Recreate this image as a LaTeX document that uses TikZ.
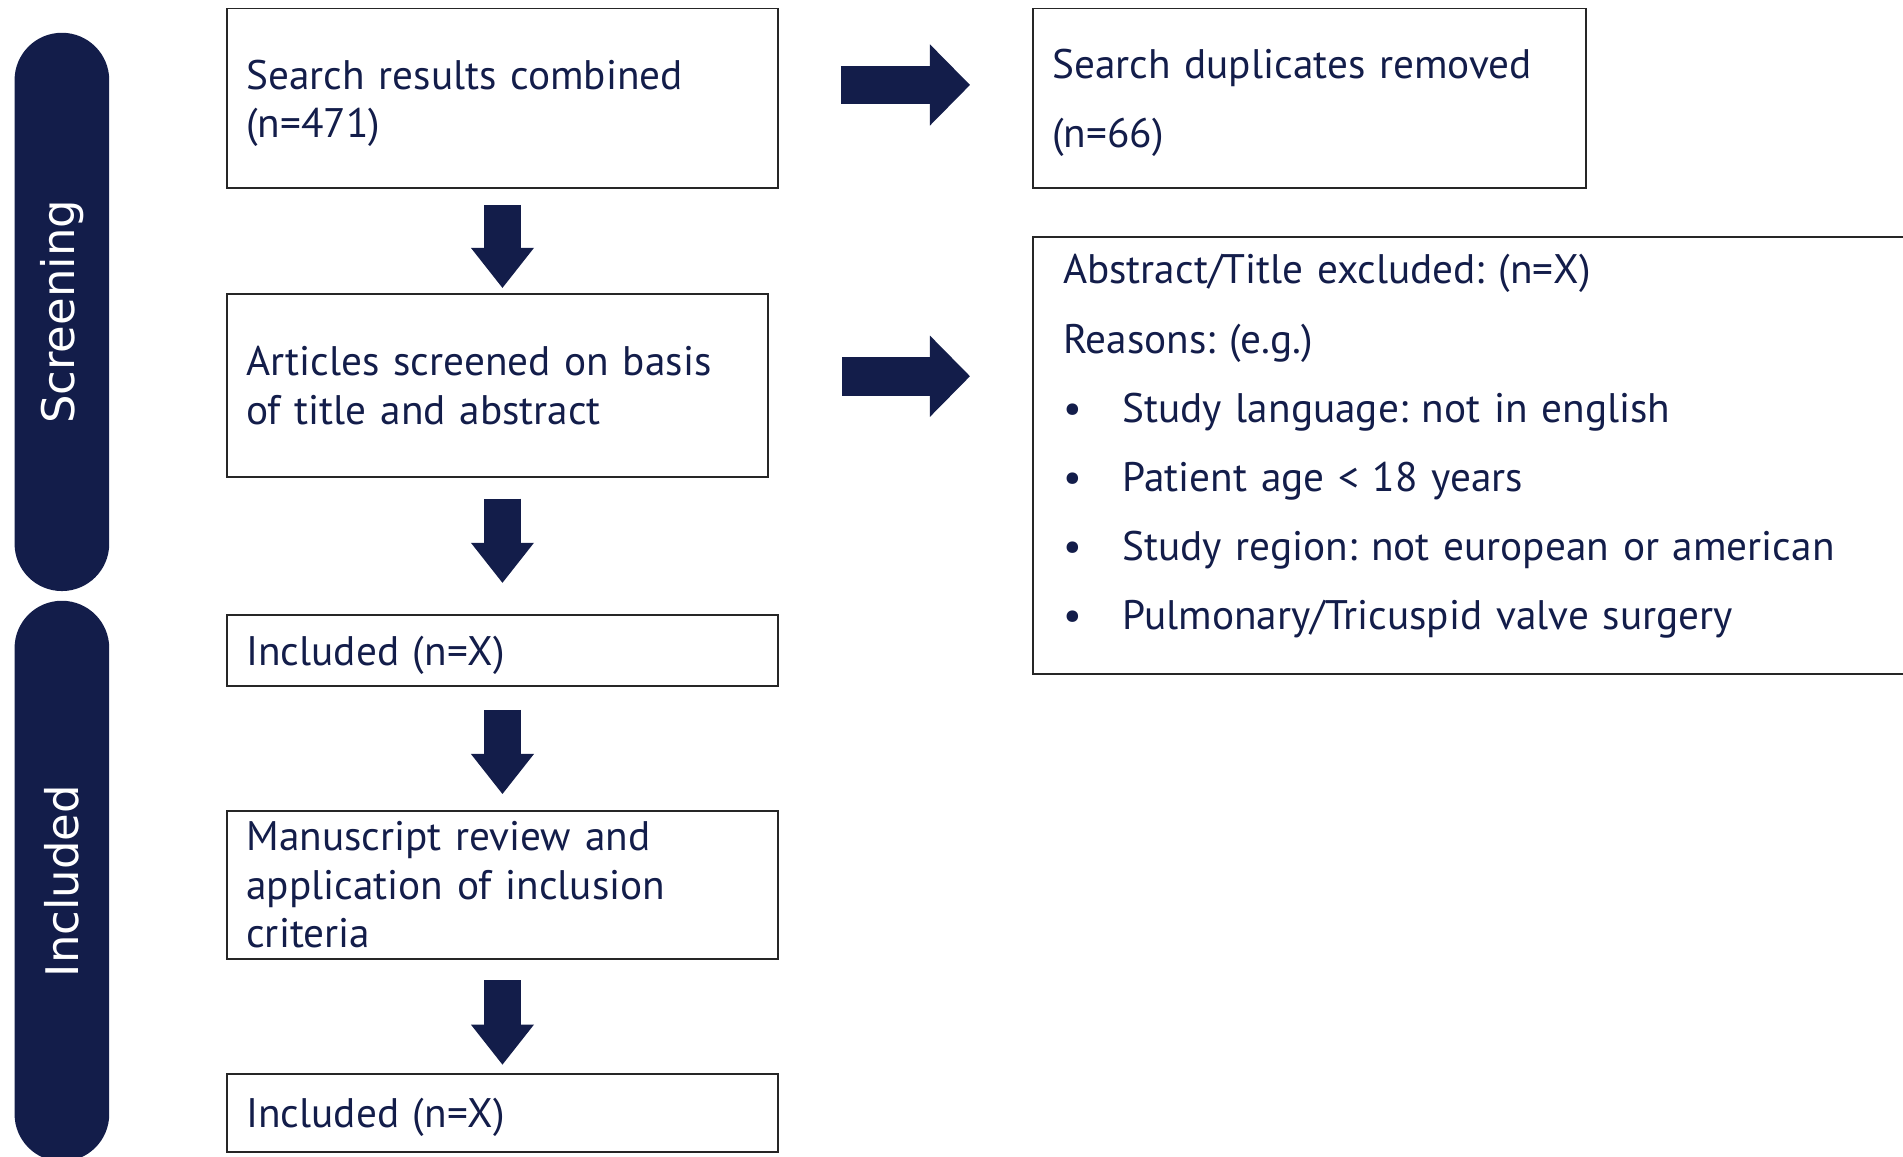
\documentclass[tikz,border=0pt]{standalone}
\usepackage{fontspec}
\setmainfont{PT Sans}
\newfontfamily\labelfont{DejaVu Sans}
\usetikzlibrary{arrows.meta}
\definecolor{navy}{RGB}{19,29,74}
\frenchspacing
\begin{document}
\begin{tikzpicture}[x=1pt,y=-1pt,
  box/.style={draw=black!85, line width=1.6pt, rectangle, text=navy, align=left,
    inner xsep=16pt, inner ysep=0pt, font=\fontsize{34}{40}\selectfont},
  pill/.style={fill=navy, rounded corners=39pt, rotate=90, minimum height=78pt,
    text=white, inner sep=0pt, font=\labelfont\fontsize{37}{44}\selectfont},
  varrow/.style={navy, line width=31pt, line cap=butt,
    -{Triangle[length=33pt,width=52pt,line width=0pt]}},
  harrow/.style={navy, line width=32pt, line cap=butt,
    -{Triangle[length=33pt,width=67pt,line width=0pt]}}]
\clip (0,0) rectangle (1568,953);
\fill[white] (0,0) rectangle (1568,953);

% side pills
\node[pill, minimum width=460pt] (scr) at (51,257) {Screening};
\node[pill, minimum width=462pt] (inc) at (51,726) {Included};

% boxes
\node[box, minimum height=148pt, text width=422pt] (b1) at (414,81)
  {Search results combined\\(n=471)\par\vspace{-8pt}};
\node[box, minimum height=151pt, text width=414pt] (b2) at (410,317.5)
  {Articles screened on basis\\of title and abstract};
\node[box, minimum height=58pt, text width=422pt] (b3) at (414,536)
  {Included (n=X)\par\vspace{-8pt}};
\node[box, minimum height=122pt, text width=422pt] (b4) at (414,729)
  {Manuscript review and\\application of inclusion\\criteria};
\node[box, minimum height=64pt, text width=422pt] (b5) at (414,917)
  {Included (n=X)\par\vspace{-8pt}};
\node[box, minimum height=148pt, text width=424pt, font=\fontsize{34}{57}\selectfont] (b6) at (1079,81)
  {Search duplicates removed\\(n=66)\par\vspace{-8pt}};
\node[box, minimum height=360pt, text width=709pt, inner xsep=25pt, font=\fontsize{34}{57}\selectfont] (b7) at (1230.5,375)
  {Abstract/Title excluded: (n=X)\\
   Reasons: (e.g.)\\
   \makebox[49pt][l]{•}Study language: not in english\\
   \makebox[49pt][l]{•}Patient age < 18 years\\
   \makebox[49pt][l]{•}Study region: not european or american\\
   \makebox[49pt][l]{•}Pulmonary/Tricuspid valve surgery\par\vspace{14pt}};

% helper coordinates for arrow ends
\coordinate (t1) at (b1.south |- b2.north);
\coordinate (t2) at (b1.south |- b3.north);
\coordinate (t3) at (b1.south |- b4.north);
\coordinate (t4) at (b1.south |- b5.north);
\coordinate (s2) at (b1.south |- b2.south);

% vertical block arrows
\draw[varrow] ([yshift=-13pt]b1.south) -- ([yshift=4pt]t1);
\draw[varrow] ([yshift=-17pt]s2) -- ([yshift=26pt]t2);
\draw[varrow] ([yshift=-19pt]b3.south) -- ([yshift=13pt]t3);
\draw[varrow] ([yshift=-17pt]b4.south) -- ([yshift=7pt]t4);

% horizontal block arrows
\coordinate (h1) at ([yshift=11pt]b1.east);
\coordinate (h2) at ([yshift=7.5pt]b2.east);
\draw[harrow] ([xshift=51pt]h1) -- ([xshift=-51pt]h1 -| b6.west);
\draw[harrow] ([xshift=60pt]h2) -- ([xshift=-51pt]h2 -| b7.west);
\end{tikzpicture}
\end{document}
